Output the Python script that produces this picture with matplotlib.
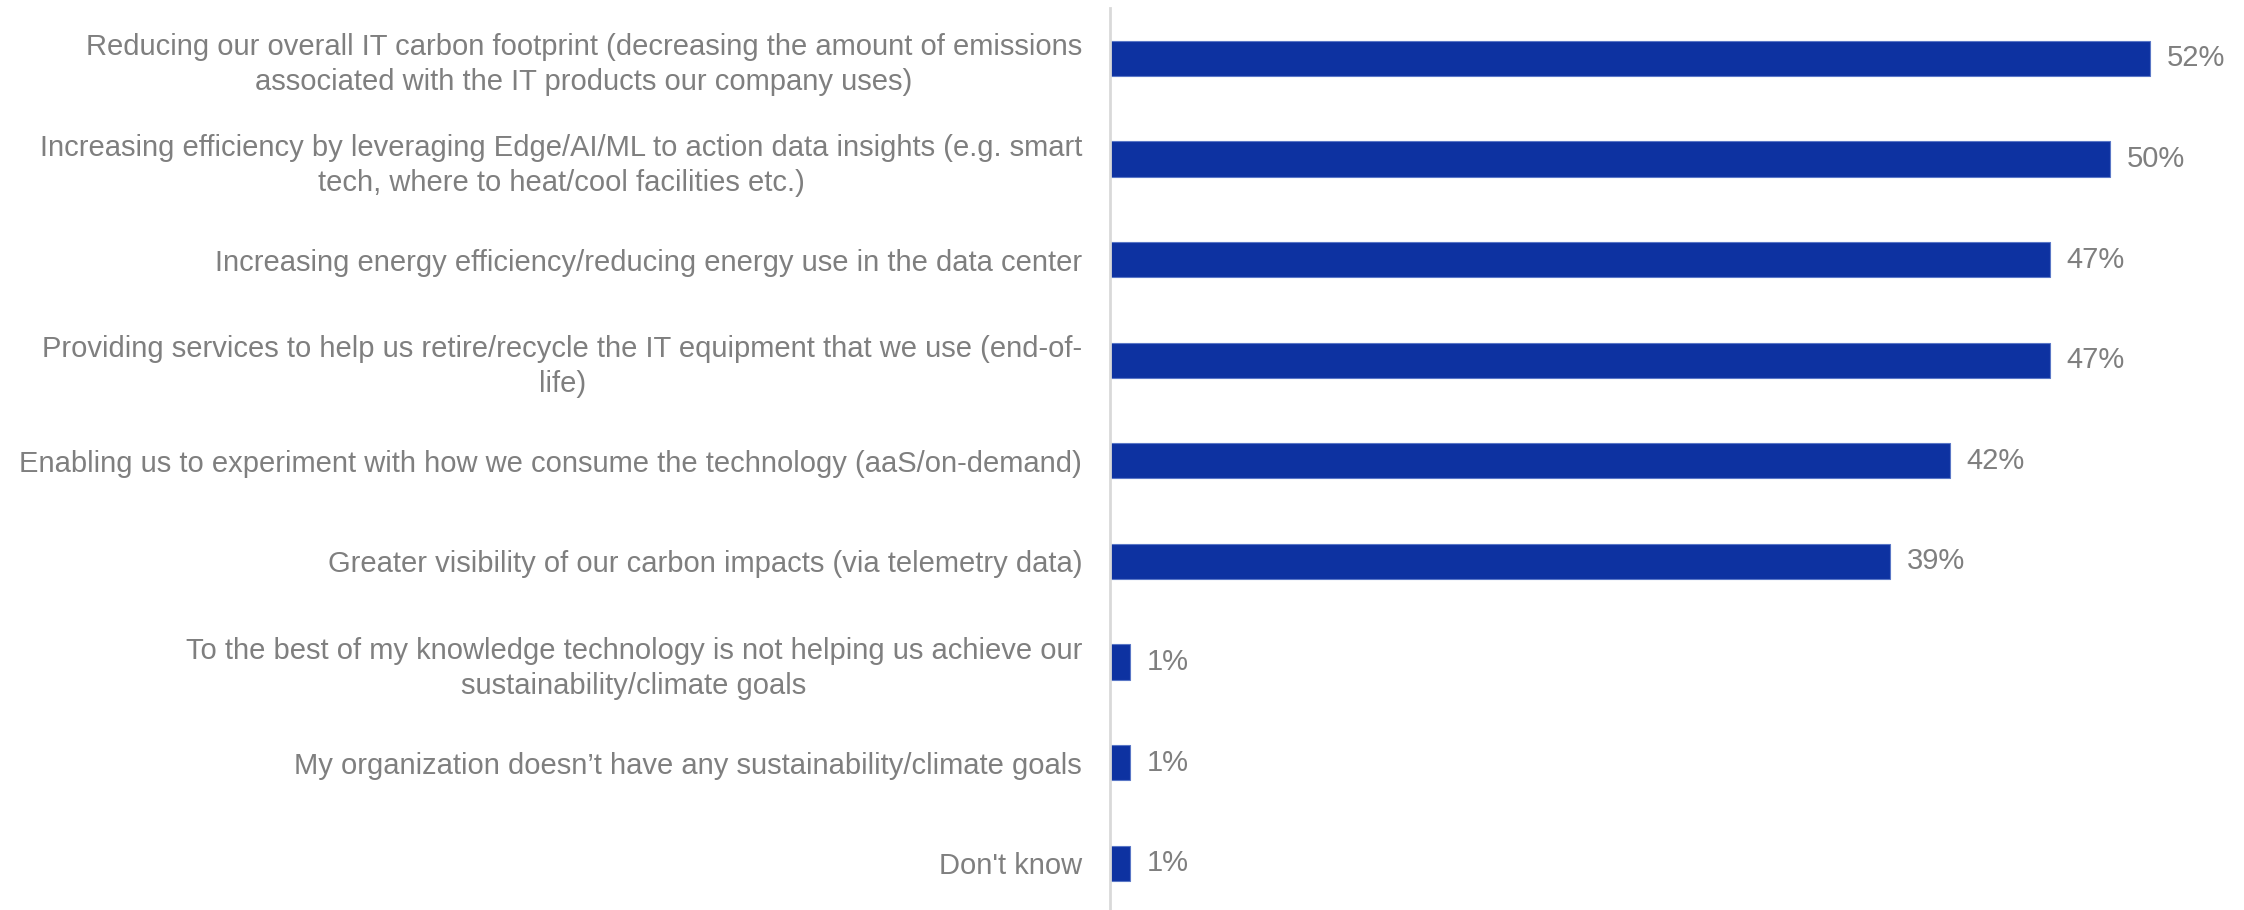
import matplotlib
matplotlib.use("Agg")
import matplotlib.pyplot as plt

categories = [
    "Reducing our overall IT carbon footprint (decreasing the amount of emissions\nassociated with the IT products our company uses)",
    "Increasing efficiency by leveraging Edge/AI/ML to action data insights (e.g. smart\ntech, where to heat/cool facilities etc.)",
    "Increasing energy efficiency/reducing energy use in the data center",
    "Providing services to help us retire/recycle the IT equipment that we use (end-of-\nlife)",
    "Enabling us to experiment with how we consume the technology (aaS/on-demand)",
    "Greater visibility of our carbon impacts (via telemetry data)",
    "To the best of my knowledge technology is not helping us achieve our\nsustainability/climate goals",
    "My organization doesn\u2019t have any sustainability/climate goals",
    "Don't know",
]
values = [52, 50, 47, 47, 42, 39, 1, 1, 1]

BAR_COLOR = "#0D32A1"
TEXT_COLOR = "#7F7F7F"
AXIS_COLOR = "#D9D9D9"

plt.rcParams["font.family"] = ["Liberation Sans", "DejaVu Sans"]

W, H, DPI = 2244, 910, 100
fig = plt.figure(figsize=(W / DPI, H / DPI), dpi=DPI)

left_px, top_px, bottom_px = 1110, 8, 910
ax = fig.add_axes([left_px / W, 0, 1 - left_px / W, (bottom_px - top_px) / H])

ypos = list(range(len(categories)))
ax.barh(ypos, values, height=0.35, color=BAR_COLOR, edgecolor="#5A77C6", linewidth=0.8)

ax.set_xlim(0, (W - left_px) / 20.0)
ax.set_ylim(8.464, -0.5)

ax.set_yticks(ypos)
ax.set_yticklabels(categories, fontsize=21, color=TEXT_COLOR)
for lbl in ax.get_yticklabels():
    lbl.set_multialignment("center")
    lbl.set_linespacing(1.3)
ax.tick_params(axis="y", length=0, pad=20)
ax.set_xticks([])

for side in ["top", "right", "bottom"]:
    ax.spines[side].set_visible(False)
ax.spines["left"].set_color(AXIS_COLOR)
ax.spines["left"].set_linewidth(2)

for y, v in zip(ypos, values):
    ax.annotate(f"{v}%", xy=(v, y), xytext=(12, 0), textcoords="offset points",
                ha="left", va="center", fontsize=21, color=TEXT_COLOR)

fig.savefig("out.png", dpi=DPI)
